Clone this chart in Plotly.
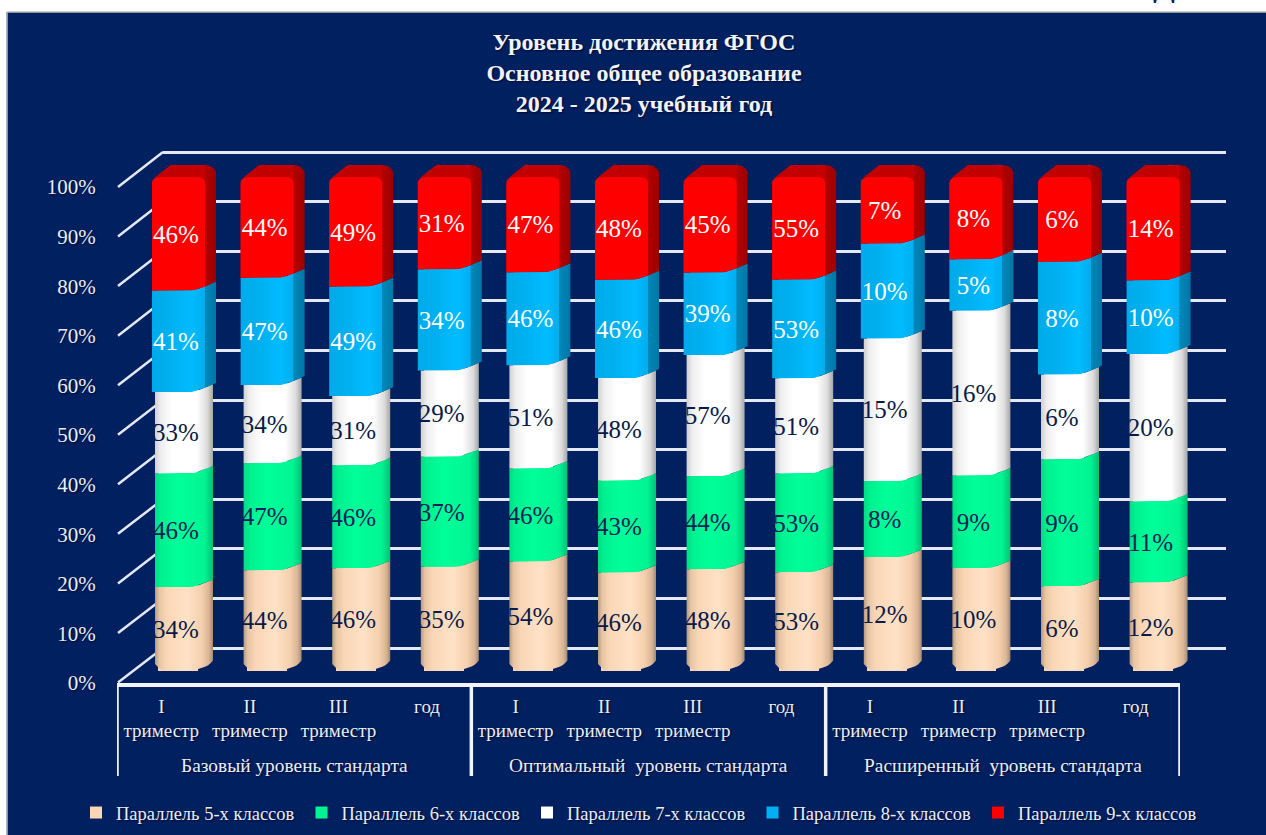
import plotly.graph_objects as go

W, H = 1266, 835
FONT = "Liberation Serif"
NAVY = "#002060"
TXT = "#e9edf5"
SHADOW = "1px 1px 2px #000a30"

title_lines = ["Уровень достижения ФГОС", "Основное общее образование", "2024 - 2025 учебный год"]
groups = ["Базовый уровень стандарта", "Оптимальный\u00a0 уровень стандарта", "Расширенный\u00a0 уровень стандарта"]
periods = ["I<br>триместр", "II<br>триместр", "III<br>триместр", "год"]
series_names = ["Параллель 5-х классов", "Параллель 6-х классов", "Параллель 7-х классов",
                "Параллель 8-х классов", "Параллель 9-х классов"]
grade5 = [34, 44, 46, 35, 54, 46, 48, 53, 12, 10, 6, 12]
grade6 = [46, 47, 46, 37, 46, 43, 44, 53, 8, 9, 9, 11]
grade7 = [33, 34, 31, 29, 51, 48, 57, 51, 15, 16, 6, 20]
grade8 = [41, 47, 49, 34, 46, 46, 39, 53, 10, 5, 8, 10]
grade9 = [46, 44, 49, 31, 47, 48, 45, 55, 7, 8, 6, 14]
series_values = [grade5, grade6, grade7, grade8, grade9]
y_ticks = [0, 10, 20, 30, 40, 50, 60, 70, 80, 90, 100]
y_tick_labels = ["0%", "10%", "20%", "30%", "40%", "50%", "60%", "70%", "80%", "90%", "100%"]

base_colors = ["#fcd5b5", "#00f592", "#ffffff", "#00b0f0", "#ff0000"]
label_colors = ["#0a1a48", "#00205a", "#0a1a48", "#ffffff", "#ffffff"]
gradients = [
    [[0, "#b59a80"], [0.07, "#e6c4a4"], [0.2, "#fad6b6"], [0.55, "#ffe2c6"], [0.8, "#f6d0ae"], [0.93, "#d8b596"], [1, "#a38a72"]],
    [[0, "#00dc84"], [0.1, "#00f090"], [0.4, "#00ff99"], [0.85, "#00f592"], [1, "#00c277"]],
    [[0, "#cfcfcf"], [0.1, "#eeeeee"], [0.3, "#ffffff"], [0.72, "#ffffff"], [0.9, "#dcdcdc"], [1, "#a6a6a6"]],
    [[0, "#00aaea"], [0.3, "#00b0f0"], [0.62, "#00bcff"], [0.82, "#00aeee"], [0.83, "#0088ba"], [1, "#0076a6"]],
    [[0, "#c00000"], [0.82, "#c40000"], [0.83, "#b40000"], [1, "#9c0000"]],
]

CAT = 88.6                 # pixels per category
X0_BAR = 178.5 - CAT / 2   # bars plane, left edge
Y0_BAR, Y1_BAR = 671, 177  # bars plane, 0 and 100
PXY = 100 / (Y0_BAR - Y1_BAR)
PAD = 5                    # axis-range headroom, in percent
shapes_def = [(-23.5, 34.5), (-23.5, 34.5), (-23.5, 34.5), (-26.5, 37.5), (-26.5, 37.5)]


def px(v):
    return v / W


def py(v):
    return 1 - v / H


def rise(rel):
    s = max(0.0, (rel - 11.5) / 26)
    return 9 * s ** 1.4


fig = go.Figure()

# Back wall grid
fig.add_trace(go.Scatter(x=[0, 1], y=[0, 100], mode="none", xaxis="x", yaxis="y",
                         showlegend=False, hoverinfo="skip"))

# Bars (100 % stacked)
for name, vals, col in zip(series_names, series_values, base_colors):
    fig.add_trace(go.Bar(x=list(range(12)), y=vals, name=name, marker=dict(color=col, line=dict(width=0)),
                         width=40 / CAT, xaxis="x2", yaxis="y2", hoverinfo="skip"))

totals = [sum(s[i] for s in series_values) for i in range(12)]

# Volume of each segment
for i in range(12):
    cum = 0.0
    for k, vals in enumerate(series_values):
        pct = vals[i] / totals[i] * 100
        lo, hi = cum, cum + pct
        left, right = shapes_def[k]
        n = 24
        rels = [left + (right - left) * j / n for j in range(n + 1)]
        xs, ys = [], []
        if k == 0:   # rounded foot of the first segment
            foot = [7, 4, 2, 1, 0.4]
            tail = [3, 1.2, 0.4]
            for j, rel in enumerate(rels):
                extra = foot[j] if j < len(foot) else 0
                if n - j < len(tail):
                    extra = tail[n - j]
                xs.append(i + rel / CAT)
                ys.append(lo + (rise(rel) + extra) * PXY)
        else:
            for rel in rels:
                xs.append(i + rel / CAT)
                ys.append(lo + rise(rel) * PXY)
        if k == 4:   # top cap and side silhouette
            for rel, up in [(37.5, 5), (36, 8), (32, 11), (27, 12), (-8, 12), (-22, 1), (-26.5, -4)]:
                xs.append(i + rel / CAT)
                ys.append(hi + up * PXY)
        else:
            for rel in reversed(rels):
                xs.append(i + rel / CAT)
                ys.append(hi + rise(rel) * PXY)
        xs.append(xs[0])
        ys.append(ys[0])
        fig.add_trace(go.Scatter(x=xs, y=ys, mode="lines", line=dict(width=0), fill="toself",
                                 fillgradient=dict(type="horizontal", colorscale=gradients[k]),
                                 xaxis="x2", yaxis="y2", showlegend=False, hoverinfo="skip"))
        if k == 4:   # bright front face
            rels2 = [-26.5 + 53 * j / n for j in range(n + 1)]
            fx = [i + r / CAT for r in rels2]
            fy = [lo + rise(r) * PXY for r in rels2]
            for rel, up in [(26.5, -5), (25, -2), (22, -0.5), (18, 0), (-18, 0), (-23, -1), (-25.5, -3), (-26.5, -7)]:
                fx.append(i + rel / CAT)
                fy.append(hi + up * PXY)
            fx.append(fx[0])
            fy.append(fy[0])
            fig.add_trace(go.Scatter(x=fx, y=fy, mode="lines", line=dict(width=0), fill="toself",
                                     fillcolor="#ff0000", xaxis="x2", yaxis="y2",
                                     showlegend=False, hoverinfo="skip"))
        cum = hi

# Value labels
cum = [0.0] * 12
for k, vals in enumerate(series_values):
    mids = []
    for i in range(12):
        pct = vals[i] / totals[i] * 100
        mids.append(cum[i] + pct / 2 - 2.5 * PXY)
        cum[i] += pct
    fig.add_trace(go.Scatter(x=[i - 2.5 / CAT for i in range(12)], y=mids, mode="text",
                             text=[f"{v}%" for v in vals], textposition="middle center",
                             textfont=dict(family=FONT, size=25, color=label_colors[k]),
                             xaxis="x2", yaxis="y2", showlegend=False, hoverinfo="skip",
                             cliponaxis=False))

# Front axis
fig.add_trace(go.Scatter(x=list(range(12)), y=[0] * 12, mode="markers", marker=dict(size=1, opacity=0),
                         xaxis="x3", yaxis="y3", showlegend=False, hoverinfo="skip"))

# Side-wall diagonals
shapes = []
for v in y_ticks:
    yf = 682.5 - v * 4.955
    yb = 648 - v * 4.96
    shapes.append(dict(type="line", xref="paper", yref="paper", layer="below",
                       x0=px(118), x1=px(163), y0=py(yf), y1=py(yb),
                       line=dict(color="#e4e8f2", width=2.5)))
# Group dividers, on the category axis
for b in [-0.5, 3.5, 7.5, 11.5]:
    shapes.append(dict(type="line", xref="x3", yref="paper", layer="above",
                       x0=b, x1=b, y0=py(683), y1=py(776),
                       line=dict(color="#f2f4f9", width=3.5)))
# Page strips around the chart
shapes += [
    dict(type="rect", xref="paper", yref="paper", layer="above", x0=0, x1=1, y0=py(12), y1=1,
         fillcolor="#ffffff", line=dict(width=0)),
    dict(type="rect", xref="paper", yref="paper", layer="above", x0=0, x1=px(6.5), y0=0, y1=1,
         fillcolor="#ffffff", line=dict(width=0)),
    dict(type="line", xref="paper", yref="paper", layer="above", x0=px(7), x1=px(7), y0=0, y1=py(12),
         line=dict(color="#bcbcbc", width=1.5)),
    dict(type="line", xref="paper", yref="paper", layer="above", x0=px(7), x1=1, y0=py(12), y1=py(12),
         line=dict(color="#bcbcbc", width=1.5)),
]

annotations = [
    dict(text="<b>Д</b>", x=px(1164), y=py(5), xref="paper", yref="paper", xanchor="center", yanchor="bottom",
         showarrow=False, font=dict(family=FONT, size=32, color=NAVY)),
    dict(text="<b>р</b>", x=px(1231), y=py(-3), xref="paper", yref="paper", xanchor="center", yanchor="bottom",
         showarrow=False, font=dict(family=FONT, size=32, color=NAVY)),
]
for j, g in enumerate(groups):
    annotations.append(dict(text=g, x=1.5 + 4 * j, y=py(765), xref="x3", yref="paper", xanchor="center",
                            yanchor="middle", showarrow=False,
                            font=dict(family=FONT, size=19.4, color=TXT, shadow=SHADOW)))

axis_off = dict(showgrid=False, zeroline=False, showline=False, showticklabels=False, ticks="")
PX_WALL = 4.96
PX_BAR = (Y0_BAR - Y1_BAR) / 100

fig.update_layout(
    width=W, height=H,
    margin=dict(l=0, r=0, t=0, b=0, autoexpand=False),
    paper_bgcolor=NAVY, plot_bgcolor="rgba(0,0,0,0)",
    barmode="stack", barnorm="percent", bargap=0,
    shapes=shapes, annotations=annotations,
    title=dict(text="<br>".join(title_lines), x=644 / W, xanchor="center", y=py(50), yanchor="top",
               font=dict(family=FONT, size=24, color="#f2f4f9", weight="bold", shadow=SHADOW)),
    xaxis=dict(domain=[px(163), px(1226)], range=[0, 1], **axis_off),
    yaxis=dict(domain=[py(648 + PAD * PX_WALL), py(152 - PAD * PX_WALL)], range=[-PAD, 100 + PAD],
               tickvals=y_ticks, showgrid=True,
               gridcolor="#e4e8f2", gridwidth=2.5, zeroline=False, showticklabels=False, ticks=""),
    xaxis2=dict(domain=[px(X0_BAR), px(X0_BAR + 12 * CAT)], range=[-0.5, 11.5], anchor="y2", **axis_off),
    yaxis2=dict(domain=[py(Y0_BAR + PAD * PX_BAR), py(Y1_BAR - PAD * PX_BAR)], range=[-PAD, 100 + PAD],
                anchor="x2", **axis_off),
    xaxis3=dict(domain=[px(117), px(1180)], range=[-0.5, 11.5], tickvals=list(range(12)),
                ticktext=periods * 3, showgrid=False, zeroline=False, showline=True,
                linecolor="#f2f4f9", linewidth=3.5, ticks="outside", ticklen=3, tickcolor="rgba(0,0,0,0)",
                tickangle=0, tickfont=dict(family=FONT, size=19, color=TXT, shadow=SHADOW), anchor="y3"),
    yaxis3=dict(domain=[py(683), py(187)], range=[0, 100], anchor="x3", tickvals=y_ticks, ticktext=y_tick_labels,
                showgrid=False, zeroline=False, showline=False, ticks="outside", ticklen=16,
                tickcolor="rgba(0,0,0,0)", tickfont=dict(family=FONT, size=21, color=TXT, shadow=SHADOW)),
    legend=dict(orientation="h", x=76 / W, xanchor="left", y=py(813), yanchor="middle",
                entrywidth=180.5, entrywidthmode="pixels", itemwidth=30, traceorder="normal",
                bgcolor="rgba(0,0,0,0)", font=dict(family=FONT, size=18.5, color=TXT, shadow=SHADOW)),
)

fig.write_html("out.html", config=dict(displayModeBar=False),
               post_script="document.body.style.margin='0';document.documentElement.style.overflow='hidden';")
